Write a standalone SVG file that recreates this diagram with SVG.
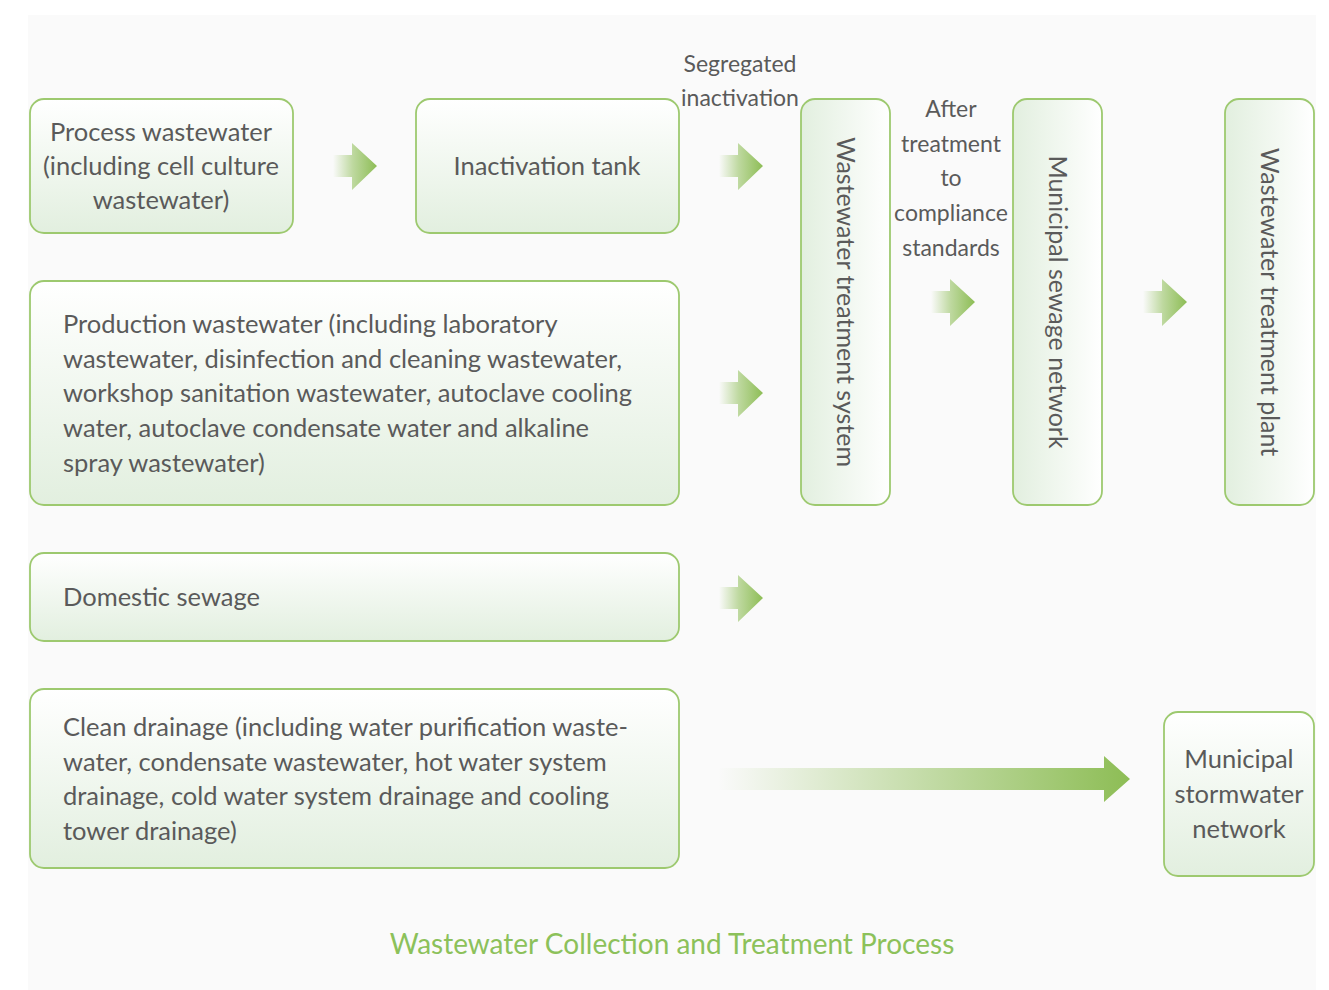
<svg xmlns="http://www.w3.org/2000/svg" width="1329" height="990" viewBox="0 0 1329 990">
  <defs>
    <linearGradient id="boxFill" x1="0" y1="0" x2="0" y2="1">
      <stop offset="0" stop-color="#ffffff"/>
      <stop offset="1" stop-color="#e2efdf"/>
    </linearGradient>
    <linearGradient id="boxFillV" x1="1" y1="0" x2="0" y2="0">
      <stop offset="0" stop-color="#ffffff"/>
      <stop offset="1" stop-color="#e2efdf"/>
    </linearGradient>
    <linearGradient id="arrowFill" x1="0" y1="0" x2="1" y2="0">
      <stop offset="0" stop-color="#8dbd55" stop-opacity="0"/>
      <stop offset="0.45" stop-color="#8dbd55" stop-opacity="0.55"/>
      <stop offset="1" stop-color="#8dbd55"/>
    </linearGradient>
    <linearGradient id="longArrowFill" x1="0" y1="0" x2="1" y2="0">
      <stop offset="0" stop-color="#8dbd55" stop-opacity="0"/>
      <stop offset="1" stop-color="#8dbd55"/>
    </linearGradient>
    <path id="shortArrow" d="M0,-11 L19,-11 L19,-23 L44,0 L19,24 L19,11 L0,11 Z"/>
  </defs>
  <style>
    .box { fill: url(#boxFill); stroke: #9dc96f; stroke-width: 1.8; }
    .boxv { fill: url(#boxFillV); stroke: #9dc96f; stroke-width: 1.8; }
    .t { font-family: "Lato", "Liberation Sans", sans-serif; font-size: 25.5px; fill: #5a5a5a; }
    .c { text-anchor: middle; }
    .s { font-size: 23px; }
    .v { font-size: 25px; }
    .title { font-family: "Lato", "Liberation Sans", sans-serif; font-size: 28px; fill: #8cc15a; text-anchor: middle; }
  </style>

  <!-- backdrop -->
  <rect x="28" y="15" width="1288" height="975" fill="#fafafa"/>

  <g id="connectors">
    <use href="#shortArrow" x="333" y="166" fill="url(#arrowFill)"/>
    <use href="#shortArrow" x="719" y="166" fill="url(#arrowFill)"/>
    <use href="#shortArrow" x="719" y="393" fill="url(#arrowFill)"/>
    <use href="#shortArrow" x="719" y="598" fill="url(#arrowFill)"/>
    <use href="#shortArrow" x="931" y="302" fill="url(#arrowFill)"/>
    <use href="#shortArrow" x="1143" y="302" fill="url(#arrowFill)"/>
    <path d="M718,768 L1104,768 L1104,756 L1130,779 L1104,802 L1104,790 L718,790 Z" fill="url(#longArrowFill)"/>
    <text class="t s c" x="740" y="72">Segregated</text>
    <text class="t s c" x="740" y="106">inactivation</text>
    <text class="t s c" x="951" y="117">After</text>
    <text class="t s c" x="951" y="152">treatment</text>
    <text class="t s c" x="951" y="186">to</text>
    <text class="t s c" x="951" y="221">compliance</text>
    <text class="t s c" x="951" y="256">standards</text>
  </g>

  <g id="process-wastewater">
    <rect class="box" x="30" y="99" width="263" height="134" rx="14"/>
    <text class="t c" x="161" y="141">Process wastewater</text>
    <text class="t c" x="161" y="175">(including cell culture</text>
    <text class="t c" x="161" y="209">wastewater)</text>
  </g>

  <g id="inactivation-tank">
    <rect class="box" x="416" y="99" width="263" height="134" rx="14"/>
    <text class="t c" x="547" y="175">Inactivation tank</text>
  </g>

  <g id="production-wastewater">
    <rect class="box" x="30" y="281" width="649" height="224" rx="14"/>
    <text class="t" x="63" y="333">Production wastewater (including laboratory</text>
    <text class="t" x="63" y="368">wastewater, disinfection and cleaning wastewater,</text>
    <text class="t" x="63" y="402">workshop sanitation wastewater, autoclave cooling</text>
    <text class="t" x="63" y="437">water, autoclave condensate water and alkaline</text>
    <text class="t" x="63" y="472">spray wastewater)</text>
  </g>

  <g id="domestic-sewage">
    <rect class="box" x="30" y="553" width="649" height="88" rx="14"/>
    <text class="t" x="63" y="606">Domestic sewage</text>
  </g>

  <g id="clean-drainage">
    <rect class="box" x="30" y="689" width="649" height="179" rx="14"/>
    <text class="t" x="63" y="736">Clean drainage (including water purification waste-</text>
    <text class="t" x="63" y="771">water, condensate wastewater, hot water system</text>
    <text class="t" x="63" y="805">drainage, cold water system drainage and cooling</text>
    <text class="t" x="63" y="840">tower drainage)</text>
  </g>

  <g id="treatment-system">
    <rect class="boxv" x="801" y="99" width="89" height="406" rx="14"/>
    <text class="t v c" transform="translate(845,302) rotate(90)" x="0" y="8">Wastewater treatment system</text>
  </g>

  <g id="sewage-network">
    <rect class="boxv" x="1013" y="99" width="89" height="406" rx="14"/>
    <text class="t v c" transform="translate(1057,302) rotate(90)" x="0" y="8">Municipal sewage network</text>
  </g>

  <g id="treatment-plant">
    <rect class="boxv" x="1225" y="99" width="89" height="406" rx="14"/>
    <text class="t v c" transform="translate(1269,302) rotate(90)" x="0" y="8">Wastewater treatment plant</text>
  </g>

  <g id="stormwater-network">
    <rect class="box" x="1164" y="712" width="150" height="164" rx="14"/>
    <text class="t c" x="1239" y="768">Municipal</text>
    <text class="t c" x="1239" y="803">stormwater</text>
    <text class="t c" x="1239" y="838">network</text>
  </g>

  <text class="title" x="672" y="954">Wastewater Collection and Treatment Process</text>
</svg>
